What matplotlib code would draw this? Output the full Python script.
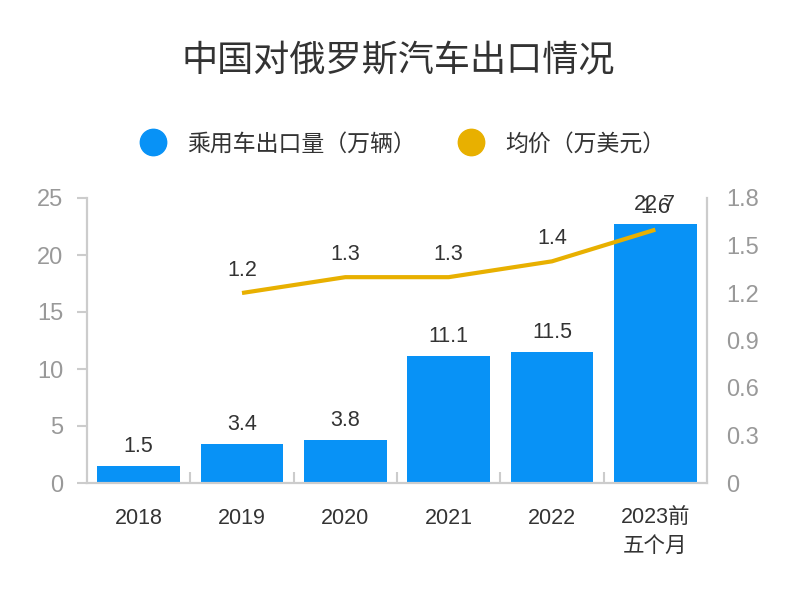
import numpy as np
import matplotlib.pyplot as plt
from matplotlib.lines import Line2D

plt.rcParams['font.family'] = ['Liberation Sans', 'Noto Sans CJK SC', 'DejaVu Sans']

years = ['2018', '2019', '2020', '2021', '2022', '2023前\n五个月']
cars = [1.5, 3.4, 3.8, 11.1, 11.5, 22.7]
price_years = [1, 2, 3, 4, 5]
price = [1.2, 1.3, 1.3, 1.4, 1.6]

bar_c = '#0892f6'
line_c = '#e8b000'
axis_c = '#cccccc'

fig = plt.figure(figsize=(7.96, 5.96), dpi=100)
ax = fig.add_axes([87 / 796, 113 / 596, 620 / 796, 285 / 596])
ax2 = ax.twinx()

x = np.arange(len(years))
ax.bar(x, cars, width=0.8, color=bar_c, zorder=2)
for xi, v in zip(x, cars):
    ax.annotate('%.1f' % v, (xi, v), xytext=(0, 9), textcoords='offset pixels',
                ha='center', va='bottom', fontsize=15.5, color='#333333')

ax2.plot(price_years, price, color=line_c, lw=3, zorder=3, solid_capstyle='butt')
for xi, v in zip(price_years, price):
    ax2.annotate('%.1f' % v, (xi, v), xytext=(0, 12), textcoords='offset pixels',
                 ha='center', va='bottom', fontsize=15.5, color='#333333')

ax.set_xlim(-0.5, 5.5)
ax.set_ylim(0, 25)
ax2.set_ylim(0, 1.8)
ax.set_yticks([0, 5, 10, 15, 20, 25])
ax2.set_yticks([0, 0.3, 0.6, 0.9, 1.2, 1.5, 1.8])
ax2.set_yticklabels(['0', '0.3', '0.6', '0.9', '1.2', '1.5', '1.8'])

ax.set_xticks(x)
ax.set_xticklabels(years, linespacing=1.45)
ax.set_xticks(np.arange(0.5, 5, 1), minor=True)
ax.tick_params(axis='x', which='major', length=0, pad=18, labelsize=15.5, labelcolor='#333333')
ax.tick_params(axis='x', which='minor', direction='in', length=8, width=1.5, color=axis_c)
ax.tick_params(axis='y', length=7, width=1.5, color=axis_c, pad=10, labelsize=17, labelcolor='#999999')
ax2.tick_params(axis='y', length=0, pad=14, labelsize=17, labelcolor='#999999')

for a in (ax, ax2):
    a.spines['top'].set_visible(False)
    for s in ('left', 'right', 'bottom'):
        a.spines[s].set_color(axis_c)
        a.spines[s].set_linewidth(1.5)

fig.text(0.5, 1 - 61 / 596, '中国对俄罗斯汽车出口情况', ha='center', va='center',
         fontsize=26, color='#333333')

handles = [Line2D([], [], ls='none', marker='o', markersize=19, color=bar_c),
           Line2D([], [], ls='none', marker='o', markersize=19, color=line_c)]
fig.legend(handles, ['乘用车出口量（万辆）', '均价（万美元）'], loc='center',
           bbox_to_anchor=(0.5, 1 - 144 / 596), ncol=2, frameon=False,
           fontsize=16.5, labelcolor='#333333', handletextpad=0.5, columnspacing=1.4)

fig.savefig('out.png', dpi=100)
